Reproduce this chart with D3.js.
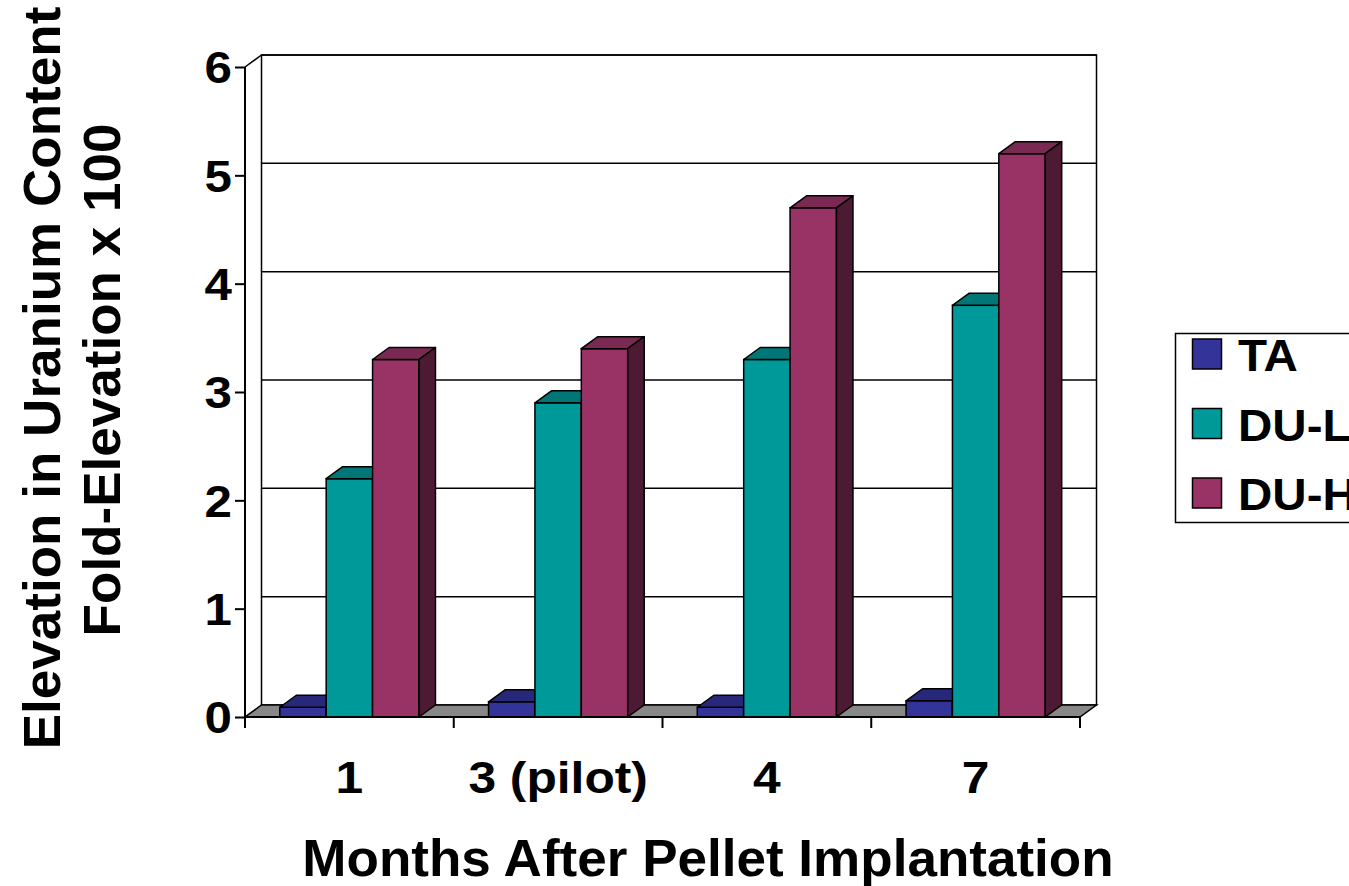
<!DOCTYPE html>
<html>
<head>
<meta charset="utf-8">
<script src="https://cdn.jsdelivr.net/npm/d3@7"></script>
<style>
  html, body { margin: 0; padding: 0; background: #fff; }
  svg { display: block; }
  text { font-family: "Liberation Sans", Arial, sans-serif; font-weight: bold; fill: #000; }
</style>
</head>
<body>
<svg id="chart" width="1349" height="886"></svg>
<script>
// ---- data ----
const categories = ["1", "3 (pilot)", "4", "7"];
const seriesNames = ["TA", "DU-L", "DU-H"];
const valuesTA  = [0.09, 0.14, 0.09, 0.15];
const valuesDUL = [2.2, 2.9, 3.3, 3.8];
const valuesDUH = [3.3, 3.4, 4.7, 5.2];
const yTicks = [0, 1, 2, 3, 4, 5, 6];
const xTitle = "Months After Pellet Implantation";
const yTitle1 = "Elevation in Uranium Content";
const yTitle2 = "Fold-Elevation x 100";

const seriesValues = [valuesTA, valuesDUL, valuesDUH];
const frontColors = ["#333399", "#009999", "#993366"];
const topColors   = ["#28287a", "#007676", "#7a2952"];
const sideColors  = ["#1c1c55", "#005050", "#4d1a33"];

// ---- layout ----
const svg = d3.select("#chart");
const plotLeft = 245, plotRight = 1080, plotBottom = 717, plotTop = 67;
const DX = 16.5, DY = -12;

const x = d3.scaleBand().domain(categories).range([plotLeft, plotRight]).padding(0);
const bw = x.bandwidth();
const xs = d3.scaleBand().domain(seriesNames).range([bw / 6, bw * 5 / 6]).padding(0);
const y = d3.scaleLinear().domain([0, 6]).range([plotBottom, plotTop]);

function stretch(sel, f) {
  sel.each(function () {
    const w = this.getComputedTextLength();
    d3.select(this).attr("textLength", w * f).attr("lengthAdjust", "spacingAndGlyphs");
  });
}

const g = svg.append("g");

// back wall
g.append("rect")
  .attr("x", plotLeft + DX).attr("y", y(6) + DY)
  .attr("width", plotRight - plotLeft).attr("height", y(0) - y(6))
  .attr("fill", "#fff").attr("stroke", "#000").attr("stroke-width", 1.5);

// gridlines on back wall
g.selectAll("line.grid").data(yTicks.filter(t => t > 0)).enter().append("line")
  .attr("x1", plotLeft + DX).attr("x2", plotRight + DX)
  .attr("y1", d => y(d) + DY).attr("y2", d => y(d) + DY)
  .attr("stroke", "#000").attr("stroke-width", 1.5);

// floor
g.append("path")
  .attr("d", `M${plotLeft},${y(0)} L${plotRight},${y(0)} L${plotRight + DX},${y(0) + DY} L${plotLeft + DX},${y(0) + DY} Z`)
  .attr("fill", "#888888").attr("stroke", "#000").attr("stroke-width", 1.5);

// side wall diagonal from front axis top to back wall top
g.append("line")
  .attr("x1", plotLeft).attr("y1", y(6)).attr("x2", plotLeft + DX).attr("y2", y(6) + DY)
  .attr("stroke", "#000").attr("stroke-width", 1.5);

// bars
categories.forEach((c, ci) => {
  seriesNames.forEach((s, si) => {
    const v = seriesValues[si][ci];
    const x0 = x(c) + xs(s), w = xs.bandwidth();
    const y0 = y(v), yb = y(0);
    const bg = g.append("g");
    bg.append("rect").attr("x", x0).attr("y", y0).attr("width", w).attr("height", yb - y0)
      .attr("fill", frontColors[si]).attr("stroke", "#000").attr("stroke-width", 1.5);
    bg.append("path")
      .attr("d", `M${x0},${y0} L${x0 + DX},${y0 + DY} L${x0 + w + DX},${y0 + DY} L${x0 + w},${y0} Z`)
      .attr("fill", topColors[si]).attr("stroke", "#000").attr("stroke-width", 1.5).attr("stroke-linejoin", "round");
    bg.append("path")
      .attr("d", `M${x0 + w},${y0} L${x0 + w + DX},${y0 + DY} L${x0 + w + DX},${yb + DY} L${x0 + w},${yb} Z`)
      .attr("fill", sideColors[si]).attr("stroke", "#000").attr("stroke-width", 1.5).attr("stroke-linejoin", "round");
  });
});

// y axis
const yAxis = d3.axisLeft(y).tickValues(yTicks).tickFormat(d3.format("d")).tickSizeInner(10).tickSizeOuter(0).tickPadding(3);
const ya = svg.append("g").attr("transform", `translate(${plotLeft},0)`).call(yAxis);
ya.select(".domain").attr("stroke", "#000").attr("stroke-width", 2).attr("d", `M0,${y(0) + 11}V${y(6)}`);
ya.selectAll(".tick line").attr("stroke", "#000").attr("stroke-width", 2);
ya.selectAll(".tick text").attr("font-size", 44).attr("font-family", "Liberation Sans, Arial, sans-serif").attr("font-weight", "bold").attr("dy", "0.36em");
stretch(ya.selectAll(".tick text"), 1.12);

// x axis
const xa = svg.append("g").attr("transform", `translate(0,${y(0)})`);
xa.append("line").attr("x1", plotLeft).attr("x2", plotRight).attr("y1", 0).attr("y2", 0)
  .attr("stroke", "#000").attr("stroke-width", 2);
const bounds = categories.map(c => x(c)).concat([x.range()[1]]);
xa.selectAll("line.xt").data(bounds).enter().append("line")
  .attr("x1", d => d).attr("x2", d => d).attr("y1", 0).attr("y2", 11)
  .attr("stroke", "#000").attr("stroke-width", 2);
const xAxis = d3.axisBottom(x).tickSize(0).tickPadding(45);
const xg = svg.append("g").attr("transform", `translate(0,${y(0)})`).call(xAxis);
xg.select(".domain").remove();
xg.selectAll(".tick text").attr("font-size", 44).attr("font-family", "Liberation Sans, Arial, sans-serif").attr("font-weight", "bold");
stretch(xg.selectAll(".tick text"), 1.13);

// axis titles
const t1 = svg.append("text").attr("x", 708).attr("y", 876).attr("text-anchor", "middle")
  .attr("font-size", 52).text(xTitle);
stretch(t1, 1.02);
const t2 = svg.append("text").attr("transform", "translate(60,378) rotate(-90)").attr("text-anchor", "middle")
  .attr("font-size", 52).text(yTitle1);
stretch(t2, 1.02);
const t3 = svg.append("text").attr("transform", "translate(120,380) rotate(-90)").attr("text-anchor", "middle")
  .attr("font-size", 52).text(yTitle2);
stretch(t3, 1.02);

// legend
const lg = svg.append("g");
lg.append("rect").attr("x", 1175.5).attr("y", 333.5).attr("width", 200).attr("height", 189)
  .attr("fill", "#fff").attr("stroke", "#000").attr("stroke-width", 1.5);
seriesNames.forEach((s, i) => {
  const yy = 339 + i * 69.5;
  lg.append("rect").attr("x", 1192.5).attr("y", yy).attr("width", 29).attr("height", 30)
    .attr("fill", frontColors[i]).attr("stroke", "#000").attr("stroke-width", 1.5);
  const lt = lg.append("text").attr("x", 1238).attr("y", yy + 32).attr("font-size", 44).text(s);
  stretch(lt, 1.08);
});
</script>
</body>
</html>
